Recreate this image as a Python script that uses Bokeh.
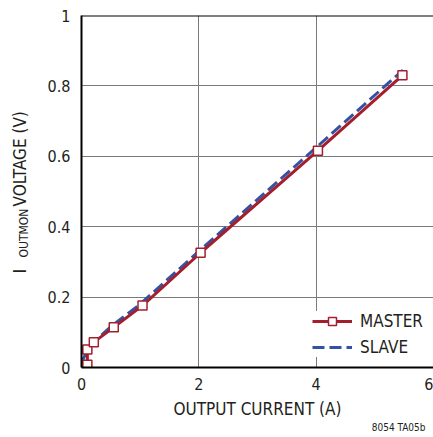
import math
from bokeh.plotting import figure
from bokeh.layouts import row
from bokeh.models import Range1d, Label, Legend, LegendItem, Span, FixedTicker
from bokeh.core.properties import value
from bokeh.embed import file_html
from bokeh.resources import INLINE

master_x = [0, 0.1, 0.1, 0.21, 0.55, 1.04, 2.03, 4.03, 5.47]
master_y = [0, 0.008, 0.051, 0.072, 0.114, 0.176, 0.326, 0.616, 0.83]
slave_x = [0, 0.1, 0.2, 0.5, 1.0, 2.0, 4.0, 5.48]
slave_y = [0.015, 0.048, 0.07, 0.116, 0.18, 0.33, 0.625, 0.845]
x_ticks = [0, 2, 4, 6]
y_ticks = [0, 0.2, 0.4, 0.6, 0.8, 1]
y_tick_labels = {0: "0", 0.2: "0.2", 0.4: "0.4", 0.6: "0.6", 0.8: "0.8", 1: "1"}

FONT = "DejaVu Sans Condensed"
TXT = "#231f20"
RED = "#a31f2e"
BLUE = "#3551a4"

LAB_W = 32
H = 437
TOP, BOTTOM = 15, 70
FRAME_H = H - TOP - BOTTOM  # 352

# narrow strip holding the y-axis title (with subscript); its frame lines up with the plot frame
lab = figure(width=LAB_W, height=H, output_backend="svg", toolbar_location=None,
             x_range=Range1d(0, LAB_W), y_range=Range1d(0, FRAME_H),
             x_axis_location=None, y_axis_location=None,
             min_border_left=0, min_border_right=0,
             min_border_top=TOP, min_border_bottom=BOTTOM)
lab.grid.visible = False
lab.outline_line_color = None
lab.border_fill_color = "white"
lab.background_fill_color = "white"
lab.text(x=[19], y=[367 - 273], text=["I"], angle=math.pi / 2, text_align="left",
         text_baseline="middle", text_font=value(FONT), text_font_size="18px",
         text_color=TXT)
lab.text(x=[23], y=[367 - 257], text=["OUTMON"], angle=math.pi / 2, text_align="left",
         text_baseline="middle", text_font=value(FONT), text_font_size="12px",
         text_color=TXT)
lab.text(x=[19], y=[367 - 206], text=["VOLTAGE (V)"], angle=math.pi / 2, text_align="left",
         text_baseline="middle", text_font=value(FONT), text_font_size="17px",
         text_color=TXT)

p = figure(width=433 - LAB_W, height=H, output_backend="svg", toolbar_location=None,
           x_range=Range1d(0, 6), y_range=Range1d(0, 1),
           min_border_left=81 - LAB_W, min_border_right=0, min_border_top=TOP,
           min_border_bottom=BOTTOM)
p.outline_line_color = None
p.background_fill_color = "white"
p.border_fill_color = "white"

for ax in (p.xaxis[0], p.yaxis[0]):
    ax.axis_line_color = "black"
    ax.axis_line_width = 2
    ax.major_tick_line_color = None
    ax.minor_tick_line_color = None
    ax.major_label_text_font = FONT
    ax.major_label_text_font_size = "16px"
    ax.major_label_text_color = TXT

p.xaxis.ticker = FixedTicker(ticks=x_ticks)
p.yaxis.ticker = FixedTicker(ticks=y_ticks)
p.yaxis.major_label_overrides = y_tick_labels
p.xaxis.major_label_standoff = 4
p.yaxis.major_label_standoff = 5
p.xaxis.axis_label = "OUTPUT CURRENT (A)"
p.xaxis.axis_label_text_font = FONT
p.xaxis.axis_label_text_font_size = "17px"
p.xaxis.axis_label_text_font_style = "normal"
p.xaxis.axis_label_text_color = TXT
p.xaxis.axis_label_standoff = 6
p.yaxis.axis_label = None

p.xgrid.ticker = FixedTicker(ticks=[2, 4])
p.ygrid.ticker = FixedTicker(ticks=[0.2, 0.4, 0.6, 0.8])
for g in (p.xgrid[0], p.ygrid[0]):
    g.grid_line_color = "#7a7a7a"
    g.grid_line_width = 1

p.add_layout(Span(location=1, dimension="width", line_color="black", line_width=2))

slave_r = p.line(slave_x, slave_y, line_color=BLUE, line_width=3, line_dash="12 5")
master_l = p.line(master_x, master_y, line_color=RED, line_width=3)
master_s = p.scatter(master_x, master_y, marker="square", size=9, fill_color="white",
                     line_color=RED, line_width=1.5)

legend = Legend(items=[LegendItem(label="MASTER", renderers=[master_l, master_s]),
                       LegendItem(label="SLAVE", renderers=[slave_r])],
                location="bottom_right", border_line_color=None,
                background_fill_color="white", background_fill_alpha=1,
                label_text_font=FONT, label_text_font_size="17px", label_text_color=TXT,
                glyph_width=40, glyph_height=20, spacing=6, padding=6, margin=10,
                label_standoff=8)
p.add_layout(legend)

p.add_layout(Label(x=344, y=5, x_units="screen", y_units="screen", text="8054 TA05b",
                   text_align="right", text_baseline="alphabetic",
                   text_font=FONT, text_font_size="10px", text_color=TXT), "below")

layout = row(lab, p, spacing=0)
open("out.html", "w").write(file_html(layout, INLINE))
